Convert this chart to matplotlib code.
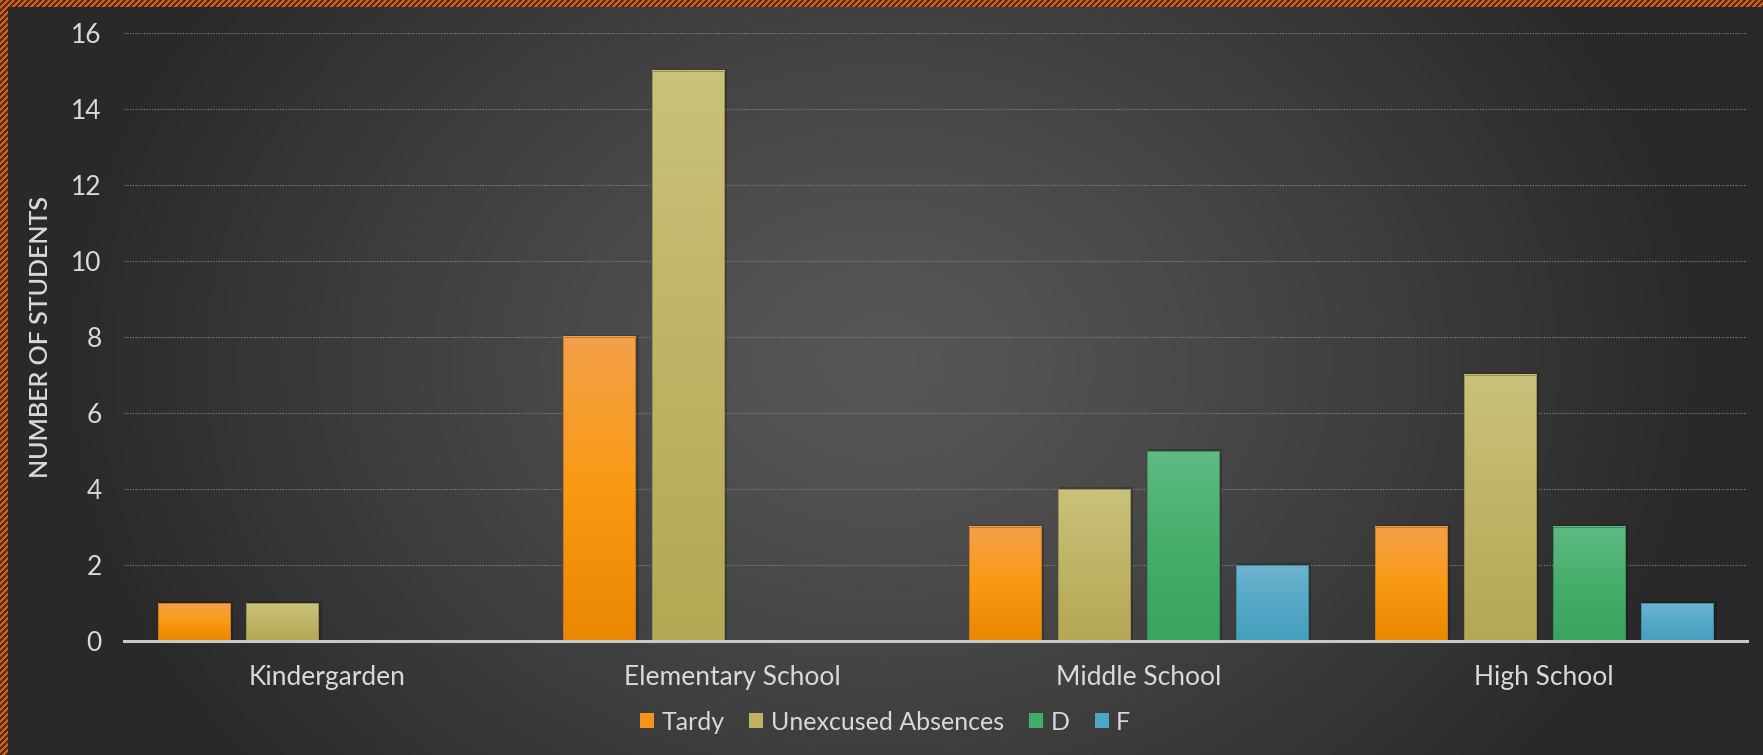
import numpy as np
import matplotlib.pyplot as plt
from matplotlib.patches import Patch, Rectangle
from matplotlib.colors import to_rgb

# %% podaci

categories = ['Kindergarden', 'Elementary School', 'Middle School', 'High School']
tardy      = [1, 8, 3, 3]
unexcused  = [1, 15, 4, 7]
grade_d    = [0, 0, 5, 3]
grade_f    = [0, 0, 2, 1]
series_names = ['Tardy', 'Unexcused Absences', 'D', 'F']
y_ticks    = [0, 2, 4, 6, 8, 10, 12, 14, 16]

# gradient boje (vrh, sredina, dno) i boja legende
grad_colors = [
    ('#F4A04B', '#F99A12', '#EB8700'),
    ('#C9C27B', '#BFB465', '#B4A855'),
    ('#5EBB82', '#45AE6B', '#39A360'),
    ('#6DB4CE', '#55A8C6', '#44A0BE'),
]
legend_colors = ['#F7931E', '#BDB35F', '#3FAE68', '#4DA6C6']
edge_colors = ['#C77A20', '#9A9050', '#3A8F5A', '#3A8CA6']
TEXT_COLOR = '#D9D9D9'

W, H = 1763, 755

# %% pozadina

yy, xx = np.mgrid[0:H, 0:W]
cx, cy = W * 0.5, H * 0.48
r = np.sqrt(((xx - cx) / (W * 0.47)) ** 2 + ((yy - cy) / (H * 0.85)) ** 2)
r = np.clip(r, 0, 1)
val = 87 - 46 * r ** 1.2
bg = np.dstack([val, val, val]) / 255.0

# prugasti okvir gore i levo
border = (xx < 8) | (yy < 7)
stripe = ((xx + yy) // 3) % 2 == 0
c1 = np.array([200, 100, 35]) / 255.0
c2 = np.array([95, 40, 15]) / 255.0
bg[border & stripe] = c1
bg[border & ~stripe] = c2

fig = plt.figure(figsize=(W / 100, H / 100), dpi=100)
fig.figimage(bg, xo=0, yo=0, origin='upper', zorder=-10)

# %% grafik

ax = fig.add_axes([124 / W, (H - 641) / H, (1747 - 124) / W, (641 - 33) / H])
ax.set_facecolor('none')
ax.set_zorder(1)

all_series = [tardy, unexcused, grade_d, grade_f]
bar_w = 0.1775
step = 0.219
x = np.arange(len(categories))

def gradient_img(top, mid, bottom, n=100):
    t = np.linspace(0, 1, n)
    ct, cm, cb = np.array(to_rgb(top)), np.array(to_rgb(mid)), np.array(to_rgb(bottom))
    rows = []
    for v in t:
        if v < 0.5:
            rows.append(ct + (cm - ct) * (v / 0.5))
        else:
            rows.append(cm + (cb - cm) * ((v - 0.5) / 0.5))
    return np.array(rows).reshape(n, 1, 3)

for i, vals in enumerate(all_series):
    img = gradient_img(*grad_colors[i])
    for j, h in enumerate(vals):
        if h <= 0:
            continue
        x0 = x[j] + (i - 1.5) * step - bar_w / 2
        # senka
        ax.add_patch(Rectangle((x0 + 0.004, 0), bar_w + 0.004, h + 0.05,
                               facecolor='black', alpha=0.2, edgecolor='none', zorder=1.5))
        ax.imshow(img, extent=[x0, x0 + bar_w, 0, h], aspect='auto', zorder=2,
                  interpolation='bilinear')
        ax.add_patch(Rectangle((x0, 0), bar_w, h, facecolor='none',
                               edgecolor=edge_colors[i], linewidth=0.7, zorder=2.5))

ax.set_xlim(-0.5, 3.5)
ax.set_ylim(0, 16)
ax.set_xticks(x)
ax.set_xticklabels(categories)
ax.set_yticks(y_ticks)

for s in ['top', 'right', 'left']:
    ax.spines[s].set_visible(False)
ax.spines['bottom'].set_color('#C8C8C8')
ax.spines['bottom'].set_linewidth(2.2)
ax.spines['bottom'].set_zorder(3)

ax.set_axisbelow(True)
ax.yaxis.grid(True, color='#8C8C8C', linestyle=(0, (1, 1.5)), linewidth=0.8)
ax.tick_params(axis='both', length=0, labelcolor=TEXT_COLOR, labelsize=19)
ax.tick_params(axis='y', pad=16)
ax.tick_params(axis='x', pad=17)
for lbl in ax.get_xticklabels() + ax.get_yticklabels():
    lbl.set_fontfamily('Lato')

ax.set_ylabel('NUMBER OF STUDENTS', color=TEXT_COLOR, fontsize=18,
              fontfamily='Lato', fontweight='semibold')
ax.yaxis.set_label_coords(-0.0444, 0.5)

handles = [Patch(facecolor=c, edgecolor='none') for c in legend_colors]
fig.legend(handles, series_names, ncol=4, loc='center',
           bbox_to_anchor=(885 / W, (H - 722) / H), frameon=False,
           prop={'family': 'Lato', 'size': 18}, labelcolor=TEXT_COLOR,
           handlelength=0.56, handleheight=0.56, handletextpad=0.3,
           columnspacing=1.0)

fig.savefig('out.png', dpi=100)
